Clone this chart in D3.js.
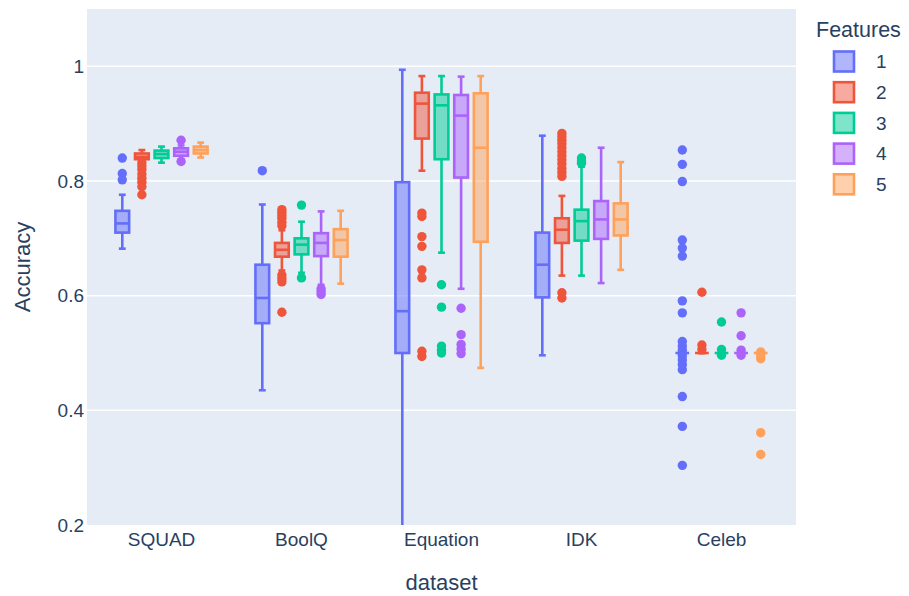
<!DOCTYPE html>
<html>
<head>
<meta charset="utf-8">
<script src="https://cdn.jsdelivr.net/npm/d3@7"></script>
<style>
  html, body { margin: 0; padding: 0; background: #ffffff; }
  svg { display: block; }
  text { font-family: "Liberation Sans", Arial, sans-serif; fill: #2a3f5f; }
</style>
</head>
<body>
<svg id="chart" width="909" height="596"></svg>
<script>
// ---------- data ----------
const datasets = ["SQUAD", "BoolQ", "Equation", "IDK", "Celeb"];
const features = ["1", "2", "3", "4", "5"];
const colors = ["#636efa", "#EF553B", "#00cc96", "#ab63fa", "#FFA15A"];
const yTicks = [0.2, 0.4, 0.6, 0.8, 1];
const yTickLabels = ["0.2", "0.4", "0.6", "0.8", "1"];

// rows = features 1..5, columns = datasets (SQUAD, BoolQ, Equation, IDK, Celeb)
const lowerWhisker = [
  [0.682, 0.435, 0.100, 0.496, 0.500],
  [0.836, 0.644, 0.818, 0.635, 0.500],
  [0.832, 0.640, 0.675, 0.635, 0.500],
  [0.838, 0.619, 0.612, 0.622, 0.500],
  [0.841, 0.621, 0.474, 0.645, 0.500]
];
const q1 = [
  [0.710, 0.552, 0.500, 0.597, 0.500],
  [0.838, 0.668, 0.874, 0.692, 0.500],
  [0.840, 0.672, 0.838, 0.696, 0.500],
  [0.844, 0.669, 0.806, 0.699, 0.500],
  [0.848, 0.668, 0.694, 0.705, 0.500]
];
const median = [
  [0.726, 0.596, 0.573, 0.654, 0.500],
  [0.842, 0.680, 0.935, 0.715, 0.500],
  [0.847, 0.689, 0.932, 0.730, 0.500],
  [0.851, 0.692, 0.914, 0.733, 0.500],
  [0.854, 0.697, 0.858, 0.733, 0.500]
];
const q3 = [
  [0.748, 0.654, 0.798, 0.710, 0.500],
  [0.848, 0.692, 0.954, 0.735, 0.500],
  [0.853, 0.700, 0.951, 0.750, 0.500],
  [0.857, 0.709, 0.950, 0.765, 0.500],
  [0.860, 0.716, 0.953, 0.761, 0.500]
];
const upperWhisker = [
  [0.776, 0.759, 0.994, 0.879, 0.500],
  [0.854, 0.714, 0.983, 0.774, 0.500],
  [0.860, 0.729, 0.983, 0.825, 0.500],
  [0.862, 0.747, 0.982, 0.858, 0.500],
  [0.867, 0.748, 0.983, 0.833, 0.500]
];
const outliers1 = [
  [0.840, 0.813, 0.802],
  [0.818],
  [],
  [],
  [0.854, 0.829, 0.799, 0.697, 0.683, 0.669, 0.591, 0.570, 0.520, 0.512, 0.505,
   0.495, 0.488, 0.480, 0.471, 0.424, 0.372, 0.304]
];
const outliers2 = [
  [0.832, 0.826, 0.820, 0.812, 0.805, 0.798, 0.790, 0.776],
  [0.750, 0.745, 0.740, 0.735, 0.728, 0.722, 0.636, 0.630, 0.624, 0.571],
  [0.744, 0.738, 0.703, 0.686, 0.645, 0.631, 0.503, 0.494],
  [0.883, 0.877, 0.871, 0.865, 0.858, 0.851, 0.844, 0.837, 0.830, 0.822, 0.815, 0.808, 0.605, 0.596],
  [0.606, 0.514, 0.506]
];
const outliers3 = [
  [],
  [0.758, 0.631],
  [0.619, 0.580, 0.512, 0.505, 0.500],
  [0.840, 0.835, 0.831],
  [0.554, 0.506, 0.496]
];
const outliers4 = [
  [0.871, 0.834],
  [0.612, 0.607, 0.602],
  [0.578, 0.532, 0.515, 0.507, 0.499],
  [],
  [0.570, 0.530, 0.505, 0.496]
];
const outliers5 = [
  [],
  [],
  [],
  [],
  [0.502, 0.495, 0.490, 0.361, 0.323]
];
const outliers = [outliers1, outliers2, outliers3, outliers4, outliers5];

// ---------- layout ----------
const svg = d3.select("#chart");
const plot = { left: 87, right: 796, top: 9, bottom: 525 };
const fontTick = 19, fontTitle = 22;

const x0 = d3.scaleBand().domain(datasets)
  .range([plot.left, plot.right]).paddingInner(0).paddingOuter(0.032);
const step = x0.step();
const x1 = d3.scaleBand().domain(features).range([0.15 * step, 0.85 * step]);
const boxW = x1.bandwidth() * 0.7;
const y = d3.scaleLinear().domain([0.2, 1.1]).range([plot.bottom, plot.top]);

// background
svg.append("rect")
  .attr("x", plot.left).attr("y", plot.top)
  .attr("width", plot.right - plot.left).attr("height", plot.bottom - plot.top)
  .attr("fill", "#E5ECF6");

// grid
svg.append("g").selectAll("line")
  .data(yTicks.filter(t => t > 0.2))
  .join("line")
  .attr("x1", plot.left).attr("x2", plot.right)
  .attr("y1", d => y(d)).attr("y2", d => y(d))
  .attr("stroke", "#ffffff").attr("stroke-width", 1.5);

// y axis
const yAxis = d3.axisLeft(y).tickValues(yTicks)
  .tickFormat((d, i) => yTickLabels[i]).tickSize(0).tickPadding(3);
const yg = svg.append("g").attr("transform", `translate(${plot.left},0)`).call(yAxis);
yg.select(".domain").remove();
yg.selectAll("text").style("font-size", fontTick + "px")
  .style("font-family", '"Liberation Sans", Arial, sans-serif').attr("fill", "#2a3f5f");

// x axis
const xAxis = d3.axisBottom(x0).tickSize(0).tickPadding(8);
const xg = svg.append("g").attr("transform", `translate(0,${plot.bottom})`).call(xAxis);
xg.select(".domain").remove();
xg.selectAll("text").style("font-size", fontTick + "px")
  .style("font-family", '"Liberation Sans", Arial, sans-serif').attr("fill", "#2a3f5f");

// axis titles
svg.append("text").attr("x", (plot.left + plot.right) / 2).attr("y", 590)
  .attr("text-anchor", "middle").style("font-size", fontTitle + "px").text("dataset");
svg.append("text")
  .attr("transform", `translate(30,${(plot.top + plot.bottom) / 2}) rotate(-90)`)
  .attr("text-anchor", "middle").style("font-size", fontTitle + "px").text("Accuracy");

// clip
svg.append("clipPath").attr("id", "clip").append("rect")
  .attr("x", plot.left).attr("y", plot.top)
  .attr("width", plot.right - plot.left).attr("height", plot.bottom - plot.top);

const marks = svg.append("g").attr("clip-path", "url(#clip)");
const lw = 2.6;

features.forEach((f, fi) => {
  const col = colors[fi];
  const g = marks.append("g");
  datasets.forEach((ds, di) => {
    const cx = x0(ds) + x1(f) + x1.bandwidth() / 2;
    const lo = lowerWhisker[fi][di], a = q1[fi][di], m = median[fi][di],
          b = q3[fi][di], hi = upperWhisker[fi][di];
    // whiskers
    g.append("line").attr("x1", cx).attr("x2", cx).attr("y1", y(b)).attr("y2", y(hi))
      .attr("stroke", col).attr("stroke-width", lw);
    g.append("line").attr("x1", cx).attr("x2", cx).attr("y1", y(a)).attr("y2", y(lo))
      .attr("stroke", col).attr("stroke-width", lw);
    [lo, hi].forEach(v => {
      g.append("line").attr("x1", cx - boxW / 4).attr("x2", cx + boxW / 4)
        .attr("y1", y(v)).attr("y2", y(v))
        .attr("stroke", col).attr("stroke-width", lw);
    });
    // box
    g.append("rect").attr("x", cx - boxW / 2).attr("y", y(b))
      .attr("width", boxW).attr("height", Math.max(0, y(a) - y(b)))
      .attr("fill", col).attr("fill-opacity", 0.5)
      .attr("stroke", col).attr("stroke-width", lw);
    // median
    g.append("line").attr("x1", cx - boxW / 2).attr("x2", cx + boxW / 2)
      .attr("y1", y(m)).attr("y2", y(m))
      .attr("stroke", col).attr("stroke-width", lw);
    // outliers
    g.selectAll(null).data(outliers[fi][di]).join("circle")
      .attr("cx", cx).attr("cy", d => y(d)).attr("r", 4.7)
      .attr("fill", col);
  });
});

// legend
const leg = svg.append("g");
leg.append("text").attr("x", 816).attr("y", 37)
  .style("font-size", "21.5px").text("Features");
features.forEach((f, i) => {
  const cy = 61.5 + i * 30.7;
  leg.append("rect").attr("x", 834).attr("y", cy - 10).attr("width", 20).attr("height", 20)
    .attr("fill", colors[i]).attr("fill-opacity", 0.5)
    .attr("stroke", colors[i]).attr("stroke-width", 2.6);
  leg.append("text").attr("x", 876).attr("y", cy).attr("dy", "0.35em")
    .style("font-size", fontTick + "px").text(f);
});
</script>
</body>
</html>
